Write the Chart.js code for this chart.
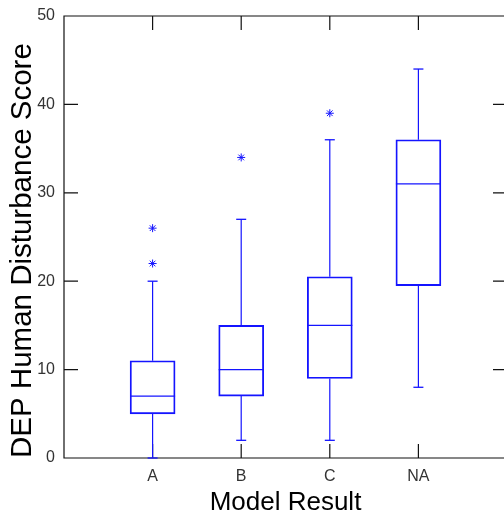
<!DOCTYPE html>
<html>
<head>
<meta charset="utf-8">
<script src="https://cdn.jsdelivr.net/npm/chart.js@4/dist/chart.umd.min.js"></script>
<style>
  html, body { margin: 0; padding: 0; background: #fff; overflow: hidden; }
  #wrap { width: 504px; height: 516px; overflow: hidden; }
  canvas { display: block; }
</style>
</head>
<body>
<div id="wrap"><canvas id="chart" width="510" height="516"></canvas></div>
<script>
// Box plot summary per model result
const categories  = ['A', 'B', 'C', 'NA'];
const whiskerLow  = [0, 2, 2, 8];
const quartile1   = [5, 7, 9, 19.5];
const medians     = [7, 10, 15, 31];
const quartile3   = [11, 15, 20.5, 36];
const whiskerHigh = [20, 27, 36, 44];
const outliers    = [[22, 26], [34], [39], []];
const yTicks      = [0, 10, 20, 30, 40, 50];

const BLUE = 'rgb(20, 20, 255)';
const FONT = "'Liberation Sans', Arial, sans-serif";

const pos = i => i + 1;

const boxData = categories.map((c, i) => ({ x: pos(i), y: [quartile1[i], quartile3[i]] }));
const medianData = categories.map((c, i) => ({ x: pos(i), y: medians[i] }));
const capData = [];
const whiskerData = [];
categories.forEach((c, i) => {
  capData.push({ x: pos(i), y: whiskerLow[i] }, { x: pos(i), y: whiskerHigh[i] });
  whiskerData.push(
    { x: pos(i), y: whiskerLow[i] }, { x: pos(i), y: quartile1[i] }, { x: pos(i), y: null },
    { x: pos(i), y: quartile3[i] }, { x: pos(i), y: whiskerHigh[i] }, { x: pos(i), y: null }
  );
});
const outlierData = [];
outliers.forEach((list, i) => list.forEach(v => outlierData.push({ x: pos(i), y: v })));

// Axes box with inward tick marks on all four sides
const TICK_LEN = 14;
const frame = {
  id: 'frame',
  beforeDatasetsDraw(chart) {
    const { ctx, chartArea: a, scales } = chart;
    ctx.save();
    ctx.strokeStyle = '#111';
    ctx.lineWidth = 1.2;
    ctx.beginPath();
    ctx.rect(a.left, a.top, a.right - a.left, a.bottom - a.top);
    scales.y.ticks.forEach(t => {
      const y = scales.y.getPixelForValue(t.value);
      ctx.moveTo(a.left, y); ctx.lineTo(a.left + TICK_LEN, y);
      ctx.moveTo(a.right, y); ctx.lineTo(a.right - TICK_LEN, y);
    });
    scales.x.ticks.forEach(t => {
      const x = scales.x.getPixelForValue(t.value);
      ctx.moveTo(x, a.bottom); ctx.lineTo(x, a.bottom - TICK_LEN);
      ctx.moveTo(x, a.top); ctx.lineTo(x, a.top + TICK_LEN);
    });
    ctx.stroke();
    ctx.restore();
  }
};

new Chart(document.getElementById('chart'), {
  type: 'bar',
  data: {
    datasets: [
      {
        type: 'bar',
        data: boxData,
        backgroundColor: 'rgba(0,0,0,0)',
        borderColor: BLUE,
        borderWidth: 1.2,
        borderSkipped: false,
        barThickness: 45,
        clip: false
      },
      {
        type: 'line',
        data: whiskerData,
        borderColor: BLUE,
        borderWidth: 1.2,
        pointRadius: 0,
        spanGaps: false,
        clip: false
      },
      {
        type: 'scatter',
        data: medianData,
        pointStyle: 'line',
        pointRadius: 22.5,
        borderColor: BLUE,
        borderWidth: 1.3,
        clip: false
      },
      {
        type: 'scatter',
        data: capData,
        pointStyle: 'line',
        pointRadius: 5,
        borderColor: BLUE,
        borderWidth: 1.3,
        clip: false
      },
      {
        type: 'scatter',
        data: outlierData,
        pointStyle: 'star',
        pointRadius: 4,
        borderColor: BLUE,
        backgroundColor: BLUE,
        borderWidth: 1,
        clip: false
      }
    ]
  },
  options: {
    responsive: false,
    animation: false,
    devicePixelRatio: 1,
    events: [],
    layout: { autoPadding: false, padding: { top: 16, right: 3, left: 0, bottom: 0 } },
    plugins: { legend: { display: false }, tooltip: { enabled: false } },
    scales: {
      x: {
        type: 'linear',
        min: 0,
        max: 5,
        offset: false,
        grid: { display: false, drawTicks: false },
        border: { display: false },
        afterBuildTicks: s => { s.ticks = categories.map((c, i) => ({ value: pos(i) })); },
        afterFit: s => { s.height = 58; s.paddingLeft = 0; s.paddingRight = 0; },
        ticks: {
          padding: 9,
          color: '#333',
          font: { family: FONT, size: 16 },
          callback: v => categories[v - 1]
        },
        title: {
          display: true,
          text: 'Model Result',
          color: '#000',
          font: { family: FONT, size: 26, lineHeight: 1 },
          padding: { top: 0, bottom: 0 }
        }
      },
      y: {
        type: 'linear',
        min: 0,
        max: 50,
        grid: { display: false, drawTicks: false },
        border: { display: false },
        afterBuildTicks: s => { s.ticks = yTicks.map(v => ({ value: v })); },
        afterFit: s => { s.width = 64; s.paddingTop = 0; s.paddingBottom = 0; },
        ticks: {
          padding: 9,
          color: '#333',
          font: { family: FONT, size: 16 }
        },
        title: {
          display: true,
          text: 'DEP Human Disturbance Score',
          align: 'start',
          color: '#000',
          font: { family: FONT, size: 29.5, lineHeight: 1.2 },
          padding: { top: 5, bottom: 0 }
        }
      }
    }
  },
  plugins: [frame]
});
</script>
</body>
</html>
